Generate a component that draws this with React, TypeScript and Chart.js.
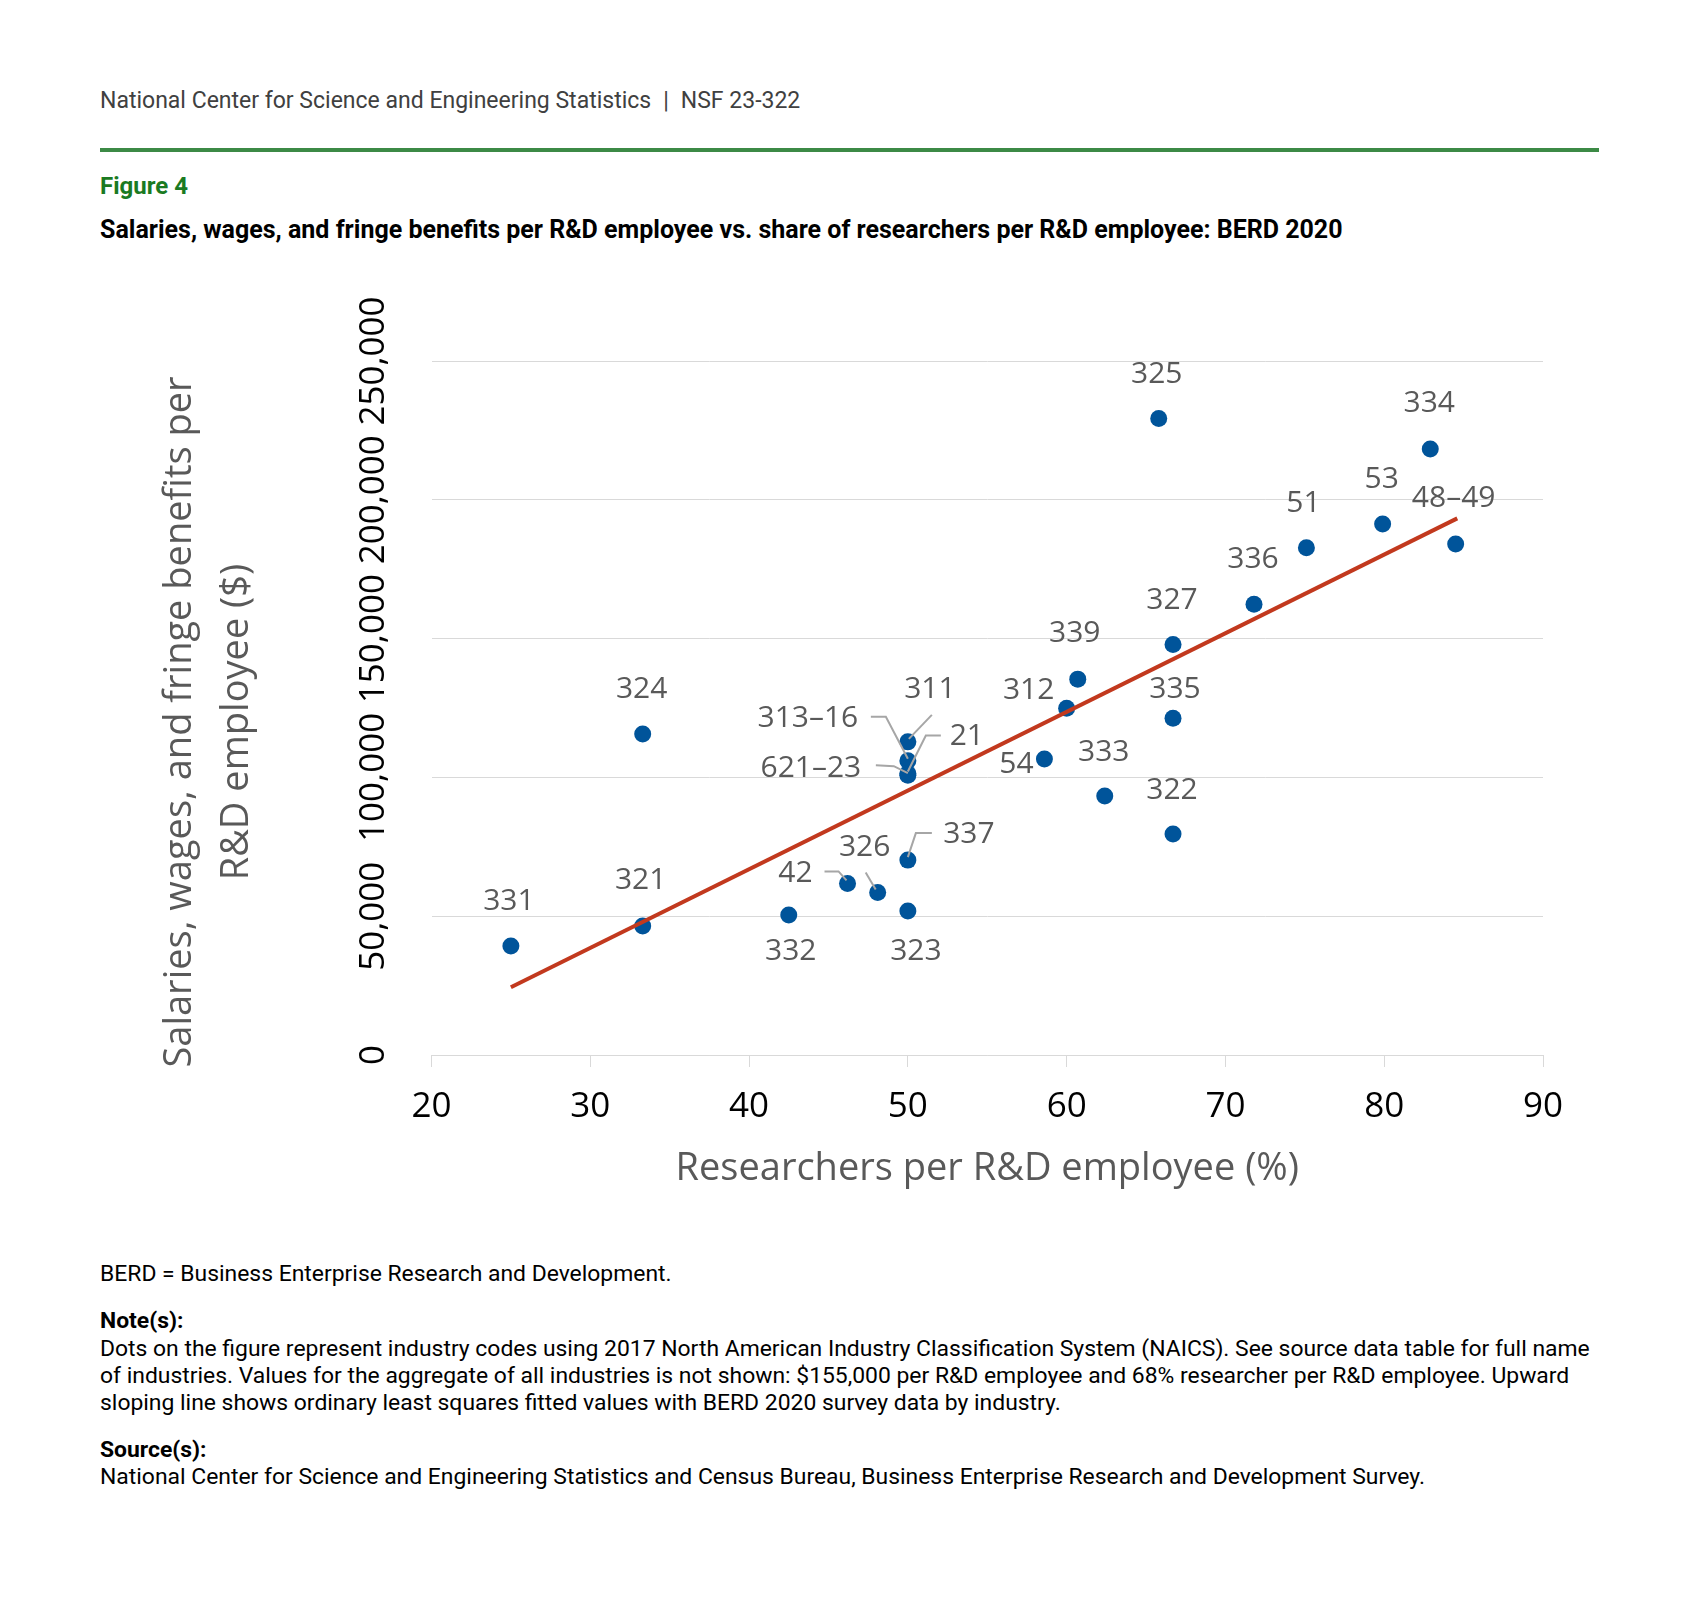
import React, { useEffect, useRef } from 'react';
import { Chart, registerables } from 'chart.js';

Chart.register(...registerables);

// ---- Data ----
const industryCodes = [
  '331', '321', '324', '332', '42', '326', '337', '323', '311', '313–16', '21', '621–23',
  '54', '312', '339', '333', '322', '335', '327', '325', '336', '51', '53', '334', '48–49',
];
const researchersPct = [
  25, 33.3, 33.3, 42.5, 46.2, 48.1, 50, 50, 50, 50, 50, 50,
  58.6, 60, 60.7, 62.4, 66.7, 66.7, 66.7, 65.8, 71.8, 75.1, 79.9, 82.9, 84.5,
];
const salaryPerEmployee = [
  39300, 46500, 115600, 50400, 61800, 58500, 70200, 51900, 112800, 106000, 101400, 100800,
  106600, 124900, 135400, 93300, 79600, 121300, 147900, 229300, 162400, 182700, 191300, 218300, 184100,
];
// OLS fitted line end points
const fitX = [25, 84.6];
const fitY = [24400, 193300];

const xTickMin = 20;
const xTickMax = 90;
const xTickStep = 10;
const yTickMin = 0;
const yTickMax = 250000;
const yTickStep = 50000;

const xTitle = 'Researchers per R&D employee (%)';
const yTitle = ['Salaries, wages, and fringe benefits per', 'R&D employee ($)'];

// ---- Label placement (style only: pixel offsets of text relative to its dot) ----
type Placement = { dx: number; dy: number; leader?: number[][] };
const LABEL_PLACEMENT: Record<string, Placement> = {
  '331': { dx: -2, dy: -44 },
  '321': { dx: -2, dy: -45 },
  '324': { dx: -1, dy: -45 },
  '332': { dx: 2, dy: 36 },
  '42': { dx: -52, dy: -10, leader: [[-23, -12], [-9, -12], [-1, -3]] },
  '326': { dx: -13, dy: -45, leader: [[-12, -20], [-2, -3]] },
  '337': { dx: 61, dy: -26, leader: [[24, -27], [8, -27], [0, -3]] },
  '323': { dx: 8, dy: 41 },
  '311': { dx: 22, dy: -52, leader: [[24, -27], [1, -3]] },
  '313–16': { dx: -100, dy: -42, leader: [[-37, -44], [-22, -44], [0, -2]] },
  '21': { dx: 59, dy: -37, leader: [[33, -38], [18, -38], [0, -2]] },
  '621–23': { dx: -97, dy: -7, leader: [[-32, -10], [-14, -9], [0, -2]] },
  '54': { dx: -28, dy: 5 },
  '312': { dx: -38, dy: -18 },
  '339': { dx: -3, dy: -46 },
  '333': { dx: -1, dy: -44 },
  '322': { dx: -1, dy: -44 },
  '335': { dx: 2, dy: -29 },
  '327': { dx: -1, dy: -44 },
  '325': { dx: -2, dy: -44 },
  '336': { dx: -1, dy: -45 },
  '51': { dx: -3, dy: -44 },
  '53': { dx: -1, dy: -44 },
  '334': { dx: -1, dy: -46 },
  '48–49': { dx: -2, dy: -45 },
};

const CHART_FONT = "'Open Sans', sans-serif";
const DOT_COLOR = '#00549a';
const LINE_COLOR = '#c2391e';
const GRID_COLOR = '#d9d9d9';
const LABEL_COLOR = '#595959';

const pointLabelPlugin = {
  id: 'pointLabels',
  afterDatasetsDraw(chart: any) {
    const meta = chart.getDatasetMeta(1);
    const ctx = chart.ctx as CanvasRenderingContext2D;
    ctx.save();
    meta.data.forEach((el: any, i: number) => {
      const code = industryCodes[i];
      const p = LABEL_PLACEMENT[code] || { dx: 0, dy: -44 };
      const { x, y } = el.getProps(['x', 'y'], true);
      if (p.leader) {
        ctx.beginPath();
        ctx.strokeStyle = '#a6a6a6';
        ctx.lineWidth = 2;
        p.leader.forEach((pt, k) => {
          if (k === 0) ctx.moveTo(x + pt[0], y + pt[1]);
          else ctx.lineTo(x + pt[0], y + pt[1]);
        });
        ctx.stroke();
      }
      ctx.font = `30px ${CHART_FONT}`;
      ctx.fillStyle = LABEL_COLOR;
      ctx.textAlign = 'center';
      ctx.textBaseline = 'middle';
      ctx.fillText(code, x + p.dx, y + p.dy);
    });
    ctx.restore();
  },
};

// Y-axis title (two rotated lines), placed on the y scale box, slightly below the plot centre
const yTitlePlugin = {
  id: 'yAxisTitle',
  afterDraw(chart: any) {
    const ctx = chart.ctx as CanvasRenderingContext2D;
    const yScale = chart.scales.y;
    const area = chart.chartArea;
    const lineHeight = 57;
    const cy = (area.top + area.bottom) / 2 + 14;
    ctx.save();
    ctx.font = `38px ${CHART_FONT}`;
    ctx.fillStyle = LABEL_COLOR;
    ctx.textAlign = 'center';
    ctx.textBaseline = 'middle';
    yTitle.forEach((line, k) => {
      ctx.save();
      ctx.translate(yScale.left + lineHeight / 2 + k * lineHeight, cy);
      ctx.rotate(-Math.PI / 2);
      ctx.fillText(line, 0, 0);
      ctx.restore();
    });
    ctx.restore();
  },
};

function ScatterChart() {
  const ref = useRef<HTMLCanvasElement>(null);
  useEffect(() => {
    if (!ref.current) return;
    const chart = new Chart(ref.current, {
      type: 'scatter',
      data: {
        datasets: [
          {
            label: 'OLS fitted values',
            data: fitX.map((x, i) => ({ x, y: fitY[i] })),
            showLine: true,
            borderColor: LINE_COLOR,
            backgroundColor: LINE_COLOR,
            borderWidth: 4,
            pointRadius: 0,
            order: 0,
          } as any,
          {
            label: 'Industries',
            data: industryCodes.map((_, i) => ({ x: researchersPct[i], y: salaryPerEmployee[i] })),
            backgroundColor: DOT_COLOR,
            borderColor: DOT_COLOR,
            borderWidth: 0,
            pointRadius: 8.5,
            order: 1,
          } as any,
        ],
      },
      options: {
        animation: false,
        responsive: true,
        maintainAspectRatio: false,
        layout: { padding: { left: 51.5, right: 65, top: 81, bottom: 48.2 } },
        plugins: {
          legend: { display: false },
          tooltip: { enabled: false },
        },
        scales: {
          x: {
            type: 'linear',
            min: xTickMin,
            max: xTickMax,
            ticks: {
              stepSize: xTickStep,
              color: '#000',
              padding: 18.7,
              font: { family: CHART_FONT, size: 35, lineHeight: 1.2 },
              maxRotation: 0,
              minRotation: 0,
            },
            grid: { drawOnChartArea: false, drawTicks: true, tickLength: 12, color: GRID_COLOR, lineWidth: 1 },
            border: { display: true, color: GRID_COLOR, width: 1 },
            title: {
              display: true,
              text: xTitle,
              color: LABEL_COLOR,
              font: { family: CHART_FONT, size: 38, lineHeight: 1.2 },
              padding: 0,
            },
            afterFit(scale: any) {
              scale.height = 136.8;
            },
          },
          y: {
            type: 'linear',
            min: yTickMin,
            max: yTickMax,
            ticks: {
              stepSize: yTickStep,
              color: '#000',
              padding: -7.1,
              crossAlign: 'center',
              minRotation: 90,
              maxRotation: 90,
              font: { family: CHART_FONT, size: 35, lineHeight: 1.2 },
              callback: (v: any) => Number(v).toLocaleString('en-US'),
            },
            grid: { drawTicks: false, color: GRID_COLOR, lineWidth: 1 },
            border: { display: false },
            title: { display: false },
            afterFit(scale: any) {
              scale.width = 280;
            },
          },
        },
      } as any,
      plugins: [pointLabelPlugin, yTitlePlugin],
    });
    return () => chart.destroy();
  }, []);
  return <canvas ref={ref} />;
}

export default function App() {
  const base: React.CSSProperties = {
    position: 'absolute',
    left: 100,
    whiteSpace: 'nowrap',
    fontFamily: 'Roboto, sans-serif',
    fontSize: 22.9,
    lineHeight: '26px',
    color: '#000',
  };
  return (
    <div
      style={{
        position: 'absolute',
        left: 0,
        top: 0,
        width: 1699,
        height: 1598,
        background: '#fff',
        overflow: 'hidden',
      }}
    >
      <div style={{ ...base, top: 88, fontSize: 23, color: '#404040' }}>
        National Center for Science and Engineering Statistics
        <span style={{ margin: '0 12px' }}>|</span>
        NSF 23-322
      </div>
      <div style={{ position: 'absolute', left: 100, top: 148, width: 1499, height: 4, background: '#3c8a46' }} />
      <div style={{ ...base, top: 173, fontSize: 24, fontWeight: 700, color: '#1a7a22' }}>Figure 4</div>
      <div style={{ ...base, top: 217, fontSize: 25, fontWeight: 700 }}>
        Salaries, wages, and fringe benefits per R&amp;D employee vs. share of researchers per R&amp;D employee: BERD 2020
      </div>
      <div style={{ position: 'absolute', left: 100, top: 280, width: 1508, height: 960 }}>
        <ScatterChart />
      </div>
      <div style={{ ...base, top: 1261 }}>BERD = Business Enterprise Research and Development.</div>
      <div style={{ ...base, top: 1308, fontWeight: 700 }}>Note(s):</div>
      <div style={{ ...base, top: 1335, lineHeight: '27px' }}>
        Dots on the figure represent industry codes using 2017 North American Industry Classification System (NAICS). See source data table for full name
        <br />
        of industries. Values for the aggregate of all industries is not shown: $155,000 per R&amp;D employee and 68% researcher per R&amp;D employee. Upward
        <br />
        sloping line shows ordinary least squares fitted values with BERD 2020 survey data by industry.
      </div>
      <div style={{ ...base, top: 1437, fontWeight: 700 }}>Source(s):</div>
      <div style={{ ...base, top: 1464 }}>
        National Center for Science and Engineering Statistics and Census Bureau, Business Enterprise Research and Development Survey.
      </div>
    </div>
  );
}
